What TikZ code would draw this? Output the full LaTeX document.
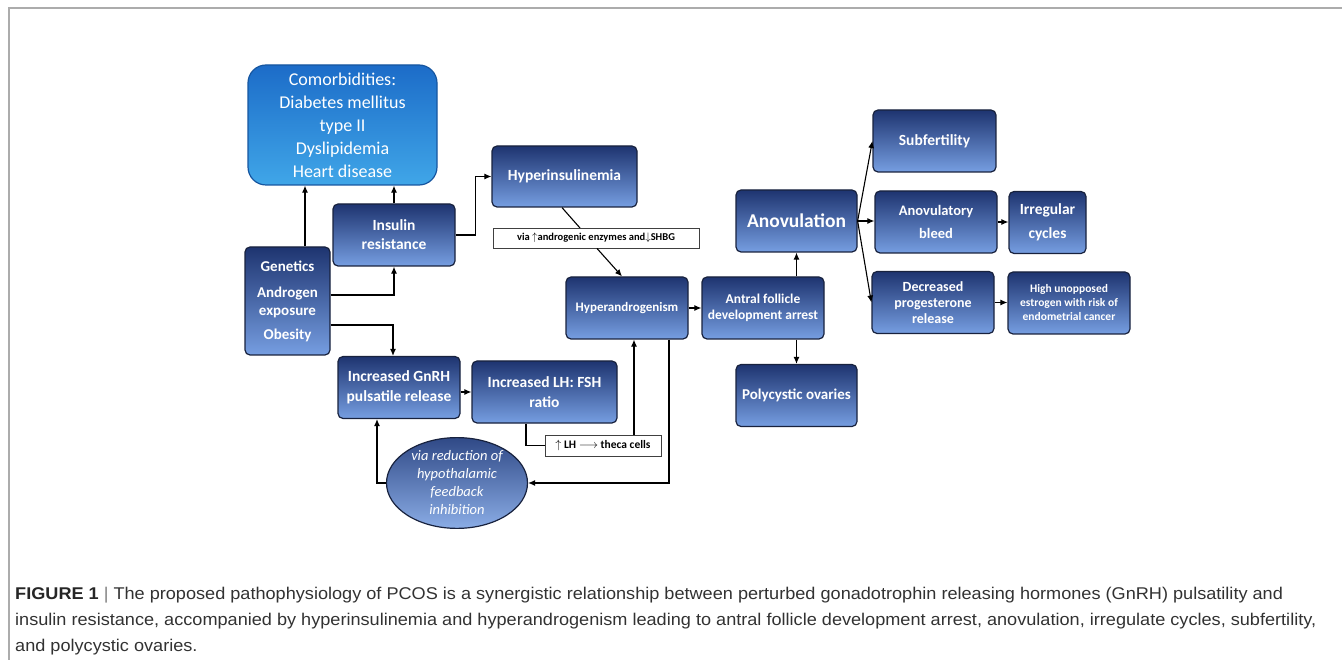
\documentclass[tikz,border=0pt]{standalone}
\usepackage{fontspec}
\setmainfont{Carlito}
\newfontfamily\capfont{Liberation Sans}
\usetikzlibrary{arrows.meta,shapes.geometric}

\definecolor{navy}{RGB}{30,52,112}
\definecolor{paleblue}{RGB}{118,158,225}
\definecolor{skytop}{RGB}{28,108,200}
\definecolor{skybot}{RGB}{64,166,232}
\definecolor{rim}{RGB}{24,34,62}
\definecolor{capgray}{RGB}{50,50,50}

\newcommand{\fsz}[2]{\fontsize{#1}{#2}\selectfont}

\tikzset{
  caja/.style={draw=rim, line width=1.2pt, rounded corners=5pt,
    top color=navy, bottom color=paleblue, text=white, align=center,
    inner sep=2pt, minimum width=122pt, minimum height=62pt},
  nota/.style={draw=black!75, fill=white, line width=0.9pt, align=center,
    font=\bfseries\fsz{10.5}{12}, inner sep=1pt, minimum height=20pt},
  linea/.style={line width=1.1pt},
}

\begin{document}
\begin{tikzpicture}[x=1pt,y=-1pt,>={Latex[length=7pt,width=6pt]}]

    \useasboundingbox (0,0) rectangle (1342,660);

    % Marco
    \draw[gray!65, line width=1.5pt] (9,660) -- (9,8) -- (1342,8);

    % Cajas de la izquierda
    \node[caja, minimum width=189pt, minimum height=120pt, rounded corners=18pt,
      top color=skytop, bottom color=skybot, draw=skytop!80!black,
      font=\fsz{18}{23}] (comorb) at (342.5,125)
      {Comorbidities:\\Diabetes mellitus\\type II\\Dyslipidemia\\Heart disease};
    \node[caja, font=\bfseries\fsz{15.5}{19}] (insres) at (394,235) {Insulin\\resistance};
    \node[caja, minimum width=85pt, minimum height=108pt,
      font=\bfseries\fsz{15}{18}] (genet) at (287.5,301)
      {Genetics\\[8pt]Androgen\\exposure\\[6pt]Obesity};
    \node[caja, font=\bfseries\fsz{15.5}{20}] (gnrh) at (399,387.5)
      {Increased GnRH\\pulsatile release};
    \node[caja, minimum width=145pt, font=\bfseries\fsz{15.5}{20}] (lhfsh) at (544.5,392)
      {Increased LH: FSH\\ratio};
    \node[caja, minimum width=145pt, minimum height=61pt,
      font=\bfseries\fsz{15.5}{18}] (hyperins) at (564.5,176.5) {Hyperinsulinemia};

    % Cajas del centro
    \node[caja, font=\bfseries\fsz{13}{15}] (hyperand) at (627,308) {Hyperandrogenism};
    \node[caja, font=\bfseries\fsz{13.5}{16}] (antral) at (763,308)
      {Antral follicle\\development arrest};
    \node[caja, minimum width=121pt, font=\bfseries\fsz{19.5}{22}] (anov) at (796.5,221)
      {Anovulation};
    \node[caja, minimum width=121pt, font=\bfseries\fsz{15}{17}] (polycys) at (796.5,395.5)
      {Polycystic ovaries};

    % Cajas de la derecha
    \node[caja, minimum width=123pt, font=\bfseries\fsz{15.5}{18}] (subfert) at (934.5,141)
      {Subfertility};
    \node[caja, font=\bfseries\fsz{14.5}{23}] (anovbleed) at (936,222)
      {Anovulatory\\bleed};
    \node[caja, minimum width=77pt, font=\bfseries\fsz{15.5}{24}] (irreg) at (1047.5,222.5)
      {Irregular\\cycles};
    \node[caja, font=\bfseries\fsz{14}{16}] (decprog) at (933,302.5)
      {Decreased\\progesterone\\release};
    \node[caja, font=\bfseries\fsz{11.5}{14}] (highun) at (1069,303)
      {High unopposed\\estrogen with risk of\\endometrial cancer};

    % Elipse de retroalimentacion
    \node[ellipse, draw=rim, line width=1.2pt, top color=navy!80!paleblue,
      bottom color=paleblue!85!white, text=white, align=center, inner sep=0pt,
      minimum width=141pt, minimum height=90pt, font=\itshape\fsz{14.5}{18}]
      (fb) at (457,483)
      {via reduction of\\hypothalamic\\feedback\\inhibition};

    % Conexiones
    \draw[linea,->] ([xshift=17.5pt]genet.north) -- ([xshift=-37.5pt]comorb.south);
    \draw[linea,->] (insres.north) -- ([xshift=51.5pt]comorb.south);
    \draw[linea,->] ([yshift=6pt]genet.east) -| (insres.south);
    \draw[linea,->] ([yshift=-24pt]genet.east) -| ([xshift=-6pt]gnrh.north);
    \draw[linea,->] (insres.east) -- ++(20,0) |- (hyperins.west);
    \draw[linea] ([xshift=-2.5pt]hyperins.south) -- (580,228);
    \node[nota, minimum width=206pt] (via) at (596,238)
      {via $\uparrow$androgenic enzymes and$\downarrow$SHBG};
    \draw[linea,->] ([xshift=1pt]via.south) -- ([xshift=-5pt]hyperand.north);
    \draw[linea,->] (hyperand.east) -- (antral.west);
    \draw[linea,->] (anov.south |- antral.north) -- (anov.south);
    \draw[linea,->] (polycys.north |- antral.south) -- (polycys.north);
    \draw[linea,->] (anov.east) -- (subfert.west);
    \draw[linea,->] (anov.east) -- (anov.east -| anovbleed.west);
    \draw[linea,->] (anov.east) -- (decprog.west);
    \draw[linea,->] (anovbleed.east) -- (anovbleed.east -| irreg.west);
    \draw[linea,->] (decprog.east) -- (decprog.east -| highun.west);
    \draw[linea,->] (gnrh.east |- lhfsh.west) -- (lhfsh.west);
    \node[nota, minimum width=116pt, minimum height=21pt, font=\bfseries\fsz{11.5}{13}]
      (theca) at (603,445.5)
      {$\uparrow$ LH $\longrightarrow$ theca cells};
    \draw[linea] ([xshift=-18.5pt]lhfsh.south) |- (theca.west);
    \draw[linea,->] ([xshift=31pt]theca.north) -- ([xshift=7pt]hyperand.south);
    \draw[linea,->] ([xshift=42pt]hyperand.south) |- (fb.east);
    \draw[linea,->] (fb.west) -| ([xshift=-22pt]gnrh.south);

    % Leyenda
    \node[anchor=north west, align=left, inner sep=0pt, text=capgray,
      transform shape, xscale=1.066, font=\capfont\fsz{17}{26}] (cap) at (15,587)
      {{\bfseries\color{black!85}FIGURE 1} {\color{gray}|} The proposed pathophysiology of PCOS is a synergistic relationship between perturbed gonadotrophin releasing hormones (GnRH) pulsatility and\\
       insulin resistance, accompanied by hyperinsulinemia and hyperandrogenism leading to antral follicle development arrest, anovulation, irregulate cycles, subfertility,\\
       and polycystic ovaries.};

\end{tikzpicture}
\end{document}
